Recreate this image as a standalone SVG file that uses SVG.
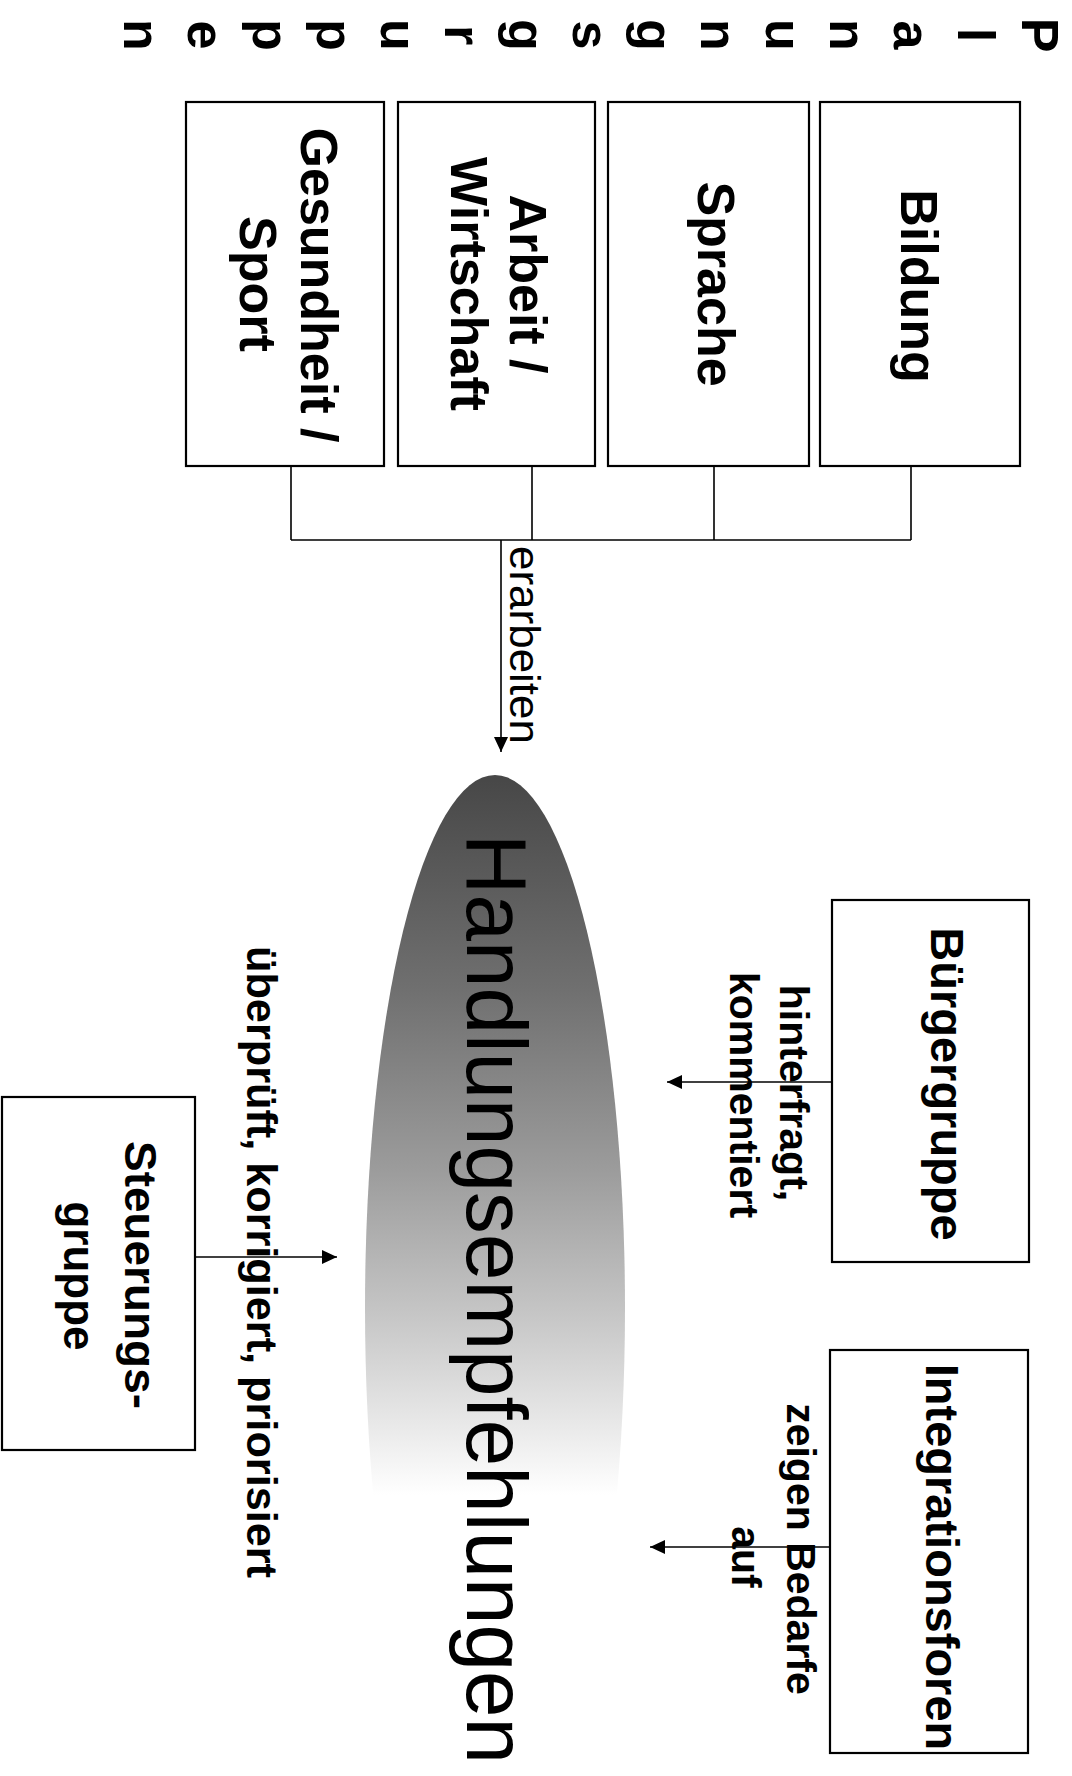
<svg xmlns="http://www.w3.org/2000/svg" width="1072" height="1776" viewBox="0 0 1072 1776">
<style>
.box{fill:#fff;stroke:#000;stroke-width:2.2}
.t{font-family:"Liberation Sans",Arial,Helvetica,sans-serif;fill:#000}
.b{font-weight:bold}
.ttl{font-size:52px;text-anchor:middle}
.nl{font-size:52px;text-anchor:middle}
.el{font-size:41px;text-anchor:middle}
.edge{stroke:#000;stroke-width:1.6;fill:none}
.arr{stroke:#000;stroke-width:1.6;fill:none;marker-end:url(#ah)}
</style>
<defs>
<marker id="ah" markerUnits="userSpaceOnUse" markerWidth="15" markerHeight="14" viewBox="0 0 15 14" refX="15" refY="7" orient="auto">
<path d="M0,0 L15,7 L0,14 Z" fill="#000"/>
</marker>
<linearGradient id="fade" gradientUnits="userSpaceOnUse" x1="775" y1="0" x2="1495" y2="0">
<stop offset="0" stop-color="#474747"/>
<stop offset="0.3" stop-color="#707070"/>
<stop offset="0.55" stop-color="#9c9c9c"/>
<stop offset="0.75" stop-color="#c6c6c6"/>
<stop offset="0.9" stop-color="#e8e8e8"/>
<stop offset="1" stop-color="#fff"/>
</linearGradient>
</defs>
<g transform="translate(1072,0) rotate(90)">
<g id="title">
<text class="t b ttl"><tspan x="35" y="50">P</tspan><tspan x="35" y="114">l</tspan><tspan x="35" y="178">a</tspan><tspan x="35" y="242">n</tspan><tspan x="35" y="306">u</tspan><tspan x="35" y="371">n</tspan><tspan x="35" y="435">g</tspan><tspan x="35" y="499">s</tspan><tspan x="35" y="563">g</tspan><tspan x="35" y="627">r</tspan><tspan x="35" y="691">u</tspan><tspan x="35" y="755">p</tspan><tspan x="35" y="819">p</tspan><tspan x="35" y="884">e</tspan><tspan x="35" y="948">n</tspan></text>
</g>
<g id="node-bildung">
<rect class="box" x="102" y="52" width="364" height="200"/>
<text class="t b nl" x="286" y="171">Bildung</text>
</g>
<g id="node-sprache">
<rect class="box" x="102" y="263" width="364" height="201"/>
<text class="t b nl" x="284" y="374">Sprache</text>
</g>
<g id="node-arbeit">
<rect class="box" x="102" y="477" width="364" height="197"/>
<text class="t b nl" x="284" y="562">Arbeit /</text>
<text class="t b nl" x="284" y="621">Wirtschaft</text>
</g>
<g id="node-gesundheit">
<rect class="box" x="102" y="688" width="364" height="198"/>
<text class="t b nl" x="285" y="771">Gesundheit /</text>
<text class="t b nl" x="284" y="832">Sport</text>
</g>
<g id="node-handlungsempfehlungen">
<ellipse cx="1308" cy="577" rx="533" ry="130" fill="url(#fade)"/>
<text class="t" x="834" y="605" font-size="85" textLength="930" lengthAdjust="spacingAndGlyphs">Handlungsempfehlungen</text>
</g>
<g id="node-buergergruppe">
<rect class="box" x="900" y="43" width="362" height="197"/>
<text class="t b" x="1084" y="141" font-size="47" text-anchor="middle">Bürgergruppe</text>
</g>
<g id="node-integrationsforen">
<rect class="box" x="1350" y="44" width="403" height="198"/>
<text class="t b" x="1557" y="146" font-size="47" text-anchor="middle">Integrationsforen</text>
</g>
<g id="node-steuerungsgruppe">
<rect class="box" x="1097" y="877" width="353" height="193"/>
<text class="t b" x="1275" y="947" font-size="44" text-anchor="middle" textLength="268" lengthAdjust="spacingAndGlyphs">Steuerungs-</text>
<text class="t b" x="1276" y="1008" font-size="44" text-anchor="middle">gruppe</text>
</g>
<g id="connectors">
<path class="edge" d="M466,161 H540 M466,358 H540 M466,540 H540 M466,781 H540 M540,161 V781"/>
<path class="arr" d="M540,571 H752"/>
<path class="arr" d="M1082,240 V405"/>
<path class="arr" d="M1547,242 V422"/>
<path class="arr" d="M1257,877 V735"/>
</g>
<g id="labels">
<text class="t" x="546" y="562" font-size="42" textLength="198" lengthAdjust="spacingAndGlyphs">erarbeiten</text>
<text class="t b el" x="1093" y="292">hinterfragt,</text>
<text class="t b el" x="1095" y="342">kommentiert</text>
<text class="t b el" x="1549" y="285">zeigen Bedarfe</text>
<text class="t b el" x="1557" y="340">auf</text>
<text class="t b" x="946" y="825" font-size="43" textLength="632" lengthAdjust="spacingAndGlyphs">überprüft, korrigiert, priorisiert</text>
</g>
</g>
</svg>
